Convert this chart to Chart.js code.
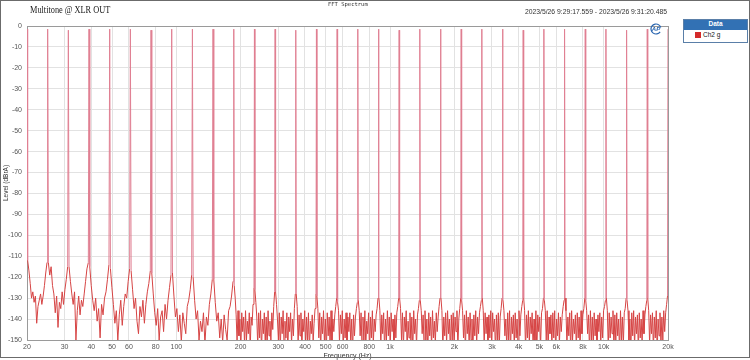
<!DOCTYPE html>
<html>
<head>
<meta charset="utf-8">
<script src="https://cdn.jsdelivr.net/npm/chart.js@4.4.0/dist/chart.umd.min.js"></script>
<style>
  body { margin: 0; background: #fff; }
  #wrap { position: relative; width: 750px; height: 360px; font-family: "Liberation Sans", Arial, sans-serif; }
  #frame { position: absolute; left: 0; top: 0; width: 748px; height: 356px; border: 1px solid #6b6b6b; pointer-events: none; }
  #title { position: absolute; left: 30px; top: 4px; font: 10px "Liberation Serif", "Times New Roman", serif; color: #222; white-space: nowrap; transform: scaleX(0.83); transform-origin: left center; }
  #sub { position: absolute; left: 328px; top: 1px; font: 5.5px "DejaVu Sans Mono", monospace; color: #333; white-space: nowrap; }
  #stamp { position: absolute; right: 83px; top: 8px; font: 6.8px "Liberation Sans", Arial, sans-serif; color: #333; white-space: nowrap; }
  #legend { position: absolute; left: 683px; top: 19px; width: 63px; height: 22px; border: 1px solid #5a7fa8; background: #fff; }
  #legend .hd { height: 10px; line-height: 10px; background: #3271b4; color: #fff; font: bold 6.5px "Liberation Sans", Arial, sans-serif; text-align: center; }
  #legend .row { position: relative; height: 12px; font: 6.5px "Liberation Sans", Arial, sans-serif; color: #222; }
  #legend .sw { position: absolute; left: 11px; top: 2px; width: 6px; height: 6px; background: #d42a2a; }
  #legend .lb { position: absolute; left: 19px; top: 1px; line-height: 8px; }
</style>
</head>
<body>
<div id="wrap">
  <canvas id="myChart" width="750" height="360"></canvas>
  <div id="title">Multitone @ XLR OUT</div>
  <div id="sub">FFT Spectrum</div>
  <div id="stamp">2023/5/26 9:29:17.559 - 2023/5/26 9:31:20.485</div>
  <div id="legend">
    <div class="hd">Data</div>
    <div class="row"><span class="sw"></span><span class="lb">Ch2 g</span></div>
  </div>
  <div id="frame"></div>
</div>
<script>
// multitone: 32 tones, 20 Hz .. 20 kHz
const toneHz = [20, 24.99, 31.23, 39.02, 48.76, 60.93, 76.13, 95.13, 118.9, 148.5, 185.7, 232.0,
  289.9, 362.2, 452.6, 565.6, 706.7, 883.1, 1103.5, 1378.9, 1723, 2153, 2690, 3362,
  4201, 5250, 6561, 8199, 10245, 12802, 15997, 20000];
const toneDb = [-1.5, -1.5, -2, -1.5, -1.5, -1.5, -2, -1.5, -1.5, -1.5, -1.5, -1.5,
  -1.5, -2, -1.5, -1.5, -1.5, -1.5, -2, -1.5, -1.5, -1.5, -1.5, -1.5,
  -2, -1.5, -1.5, -1.5, -1.5, -2, -1.5, -1.5];

// noise floor between tone k and tone k+1 (dBrA), read left to right
const bandDb = [
  [-112, -117, -123, -130, -127, -132, -129, -142, -134, -131, -128, -133, -129, -124, -118, -113],
  [-113, -119, -115, -124, -128, -137, -129, -144, -132, -135, -127, -133, -126, -121, -115],
  [-115, -122, -128, -133, -127, -150, -136, -129, -138, -131, -134, -128, -122, -116, -113],
  [-115, -124, -131, -136, -130, -141, -135, -149, -133, -138, -130, -127, -121, -114],
  [-116, -125, -133, -142, -136, -150, -138, -131, -143, -134, -128, -130, -122, -116],
  [-117, -126, -135, -130, -141, -147, -134, -139, -131, -142, -133, -127, -123, -117],
  [-118, -128, -137, -143, -135, -150, -139, -136, -146, -133, -140, -131, -125, -119],
  [-118, -129, -139, -135, -146, -138, -151, -137, -142, -147, -134, -131, -126, -119],
  [-120, -131, -140, -136, -150, -141, -146, -137, -152, -139, -143, -133, -128, -121],
  [-121, -132, -141, -137, -149, -140, -151, -138, -145, -150, -136, -134, -129, -122],
  [-124, -130, -138, -151, -136, -148, -140, -155, -137, -146, -139, -153, -136, -150, -141, -147, -137, -154, -139, -143, -133, -125],
  [-126, -132, -139, -153, -137, -149, -136, -156, -140, -147, -137, -152, -139, -155, -136, -148, -141, -151, -137, -145, -134, -127],
  [-127, -133, -140, -150, -137, -155, -139, -147, -136, -153, -141, -149, -137, -156, -139, -146, -137, -152, -140, -148, -135, -128],
  [-128, -134, -152, -138, -148, -137, -155, -140, -146, -136, -153, -139, -150, -137, -156, -141, -147, -138, -151, -142, -135, -128],
  [-129, -135, -149, -137, -155, -139, -147, -136, -152, -140, -156, -137, -148, -139, -153, -136, -150, -140, -146, -138, -134, -130],
  [-132, -136, -151, -138, -147, -136, -154, -140, -149, -137, -155, -139, -146, -137, -152, -140, -156, -138, -148, -139, -135, -132],
  [-131, -136, -148, -137, -155, -139, -150, -136, -153, -141, -147, -137, -156, -139, -149, -136, -152, -140, -146, -138, -135, -130],
  [-130, -136, -153, -138, -147, -137, -156, -140, -150, -136, -148, -139, -154, -137, -146, -140, -155, -138, -149, -137, -134, -130],
  [-130, -135, -150, -137, -154, -139, -146, -136, -155, -141, -149, -137, -152, -139, -156, -136, -147, -140, -153, -138, -135, -131],
  [-131, -136, -147, -138, -153, -136, -150, -140, -156, -137, -148, -139, -154, -136, -149, -141, -152, -137, -146, -139, -134, -130],
  [-130, -136, -155, -139, -148, -137, -152, -136, -147, -140, -156, -138, -150, -137, -153, -139, -146, -136, -154, -140, -135, -130],
  [-131, -136, -149, -138, -156, -136, -147, -139, -153, -137, -150, -140, -155, -138, -148, -136, -152, -139, -147, -137, -134, -131],
  [-130, -136, -152, -137, -147, -139, -155, -138, -149, -136, -153, -137, -146, -140, -156, -138, -150, -137, -154, -139, -135, -130],
  [-131, -136, -148, -140, -154, -137, -150, -136, -156, -139, -147, -138, -153, -137, -149, -140, -155, -136, -148, -138, -134, -131],
  [-130, -136, -155, -138, -149, -136, -152, -139, -147, -137, -154, -140, -150, -136, -156, -138, -146, -139, -153, -137, -135, -130],
  [-131, -136, -150, -136, -155, -139, -147, -138, -153, -137, -149, -136, -156, -140, -148, -137, -152, -139, -146, -138, -134, -131],
  [-130, -136, -153, -139, -148, -137, -156, -136, -150, -140, -147, -138, -154, -137, -149, -139, -155, -136, -147, -138, -135, -130],
  [-131, -136, -147, -138, -155, -136, -150, -139, -153, -137, -148, -140, -156, -138, -146, -137, -152, -139, -149, -136, -134, -131],
  [-130, -136, -154, -137, -149, -139, -147, -136, -155, -138, -151, -137, -148, -140, -156, -136, -150, -139, -153, -137, -135, -130],
  [-131, -136, -150, -140, -156, -137, -148, -136, -153, -139, -147, -138, -155, -137, -149, -140, -152, -136, -147, -138, -134, -131],
  [-130, -136, -152, -138, -147, -137, -155, -139, -149, -136, -156, -140, -148, -137, -153, -139, -150, -136, -146, -137, -133, -129]
];

const xTicks = [20, 30, 40, 50, 60, 80, 100, 200, 300, 400, 500, 600, 800, 1000,
  2000, 3000, 4000, 5000, 6000, 8000, 10000, 20000];
const yMin = -150;
const yMax = 0;

// trace: tone, then its band samples spread (log) up to the next tone
const trace = [];
for (let k = 0; k < toneHz.length; k++) {
  trace.push({ x: toneHz[k], y: toneDb[k] });
  if (k < bandDb.length) {
    const b = bandDb[k];
    const ratio = toneHz[k + 1] / toneHz[k];
    for (let i = 0; i < b.length; i++) {
      const t = (i + 0.5) / b.length;
      trace.push({ x: toneHz[k] * Math.pow(ratio, t), y: b[i] });
    }
  }
}

const plotFrame = {
  id: 'plotFrame',
  beforeDatasetsDraw(chart) {
    const { ctx, chartArea: a } = chart;
    ctx.save();
    ctx.strokeStyle = '#9a9a9a';
    ctx.lineWidth = 1;
    ctx.strokeRect(Math.round(a.left) + 0.5, Math.round(a.top) + 0.5, Math.round(a.right - a.left), Math.round(a.bottom - a.top));
    ctx.restore();
  },
  afterDraw(chart) {
    // AP logo in the corner
    const { ctx, chartArea: a } = chart;
    ctx.save();
    ctx.strokeStyle = '#2a66b0';
    ctx.lineWidth = 1.2;
    ctx.beginPath();
    ctx.arc(a.right - 12, a.top + 3, 5, 0.6, Math.PI * 1.9);
    ctx.stroke();
    ctx.fillStyle = '#2a66b0';
    ctx.font = 'italic bold 6px "Liberation Sans", Arial, sans-serif';
    ctx.textAlign = 'center';
    ctx.textBaseline = 'middle';
    ctx.fillText('AP', a.right - 12, a.top + 3.5);
    ctx.restore();
  }
};

// tone spikes come out lighter (pink) in the analyzer plot
const spikeColor = (ctx) => (ctx.p0.parsed.y > -100 || ctx.p1.parsed.y > -100) ? '#e07f92' : undefined;

const config = {
  type: 'line',
  data: {
    datasets: [{
      label: 'Ch2 g',
      data: trace,
      borderColor: '#d64444',
      borderWidth: 1,
      pointRadius: 0,
      tension: 0,
      segment: { borderColor: spikeColor }
    }]
  },
  options: {
    responsive: false,
    animation: false,
    devicePixelRatio: 1,
    layout: { padding: { top: 26, right: 82, left: 0, bottom: 0 } },
    plugins: { legend: { display: false }, tooltip: { enabled: false } },
    scales: {
      x: {
        type: 'logarithmic',
        min: 20,
        max: 20000,
        afterBuildTicks: (scale) => { scale.ticks = xTicks.map(v => ({ value: v })); },
        afterFit: (scale) => { scale.height = 20; },
        ticks: {
          autoSkip: false,
          maxRotation: 0,
          padding: 3,
          color: '#555',
          font: { size: 7, family: '"Liberation Sans", Arial, sans-serif' },
          callback: (v) => v >= 1000 ? (v / 1000) + 'k' : String(v)
        },
        grid: { color: '#e2e2e2', drawTicks: false },
        border: { display: false },
        title: { display: true, text: 'Frequency (Hz)', color: '#333', padding: 0, font: { size: 7, family: '"Liberation Sans", Arial, sans-serif' } }
      },
      y: {
        min: yMin,
        max: yMax,
        afterFit: (scale) => { scale.width = 27; },
        ticks: {
          stepSize: 10,
          padding: 5,
          color: '#555',
          font: { size: 7, family: '"Liberation Sans", Arial, sans-serif' }
        },
        grid: { color: '#e2e2e2', drawTicks: false },
        border: { display: false },
        title: { display: true, text: 'Level (dBrA)', color: '#333', padding: { top: 2, bottom: 0 }, font: { size: 6.5, family: '"Liberation Sans", Arial, sans-serif' } }
      }
    }
  },
  plugins: [plotFrame]
};

const myChart = new Chart(document.getElementById('myChart'), config);
</script>
</body>
</html>
